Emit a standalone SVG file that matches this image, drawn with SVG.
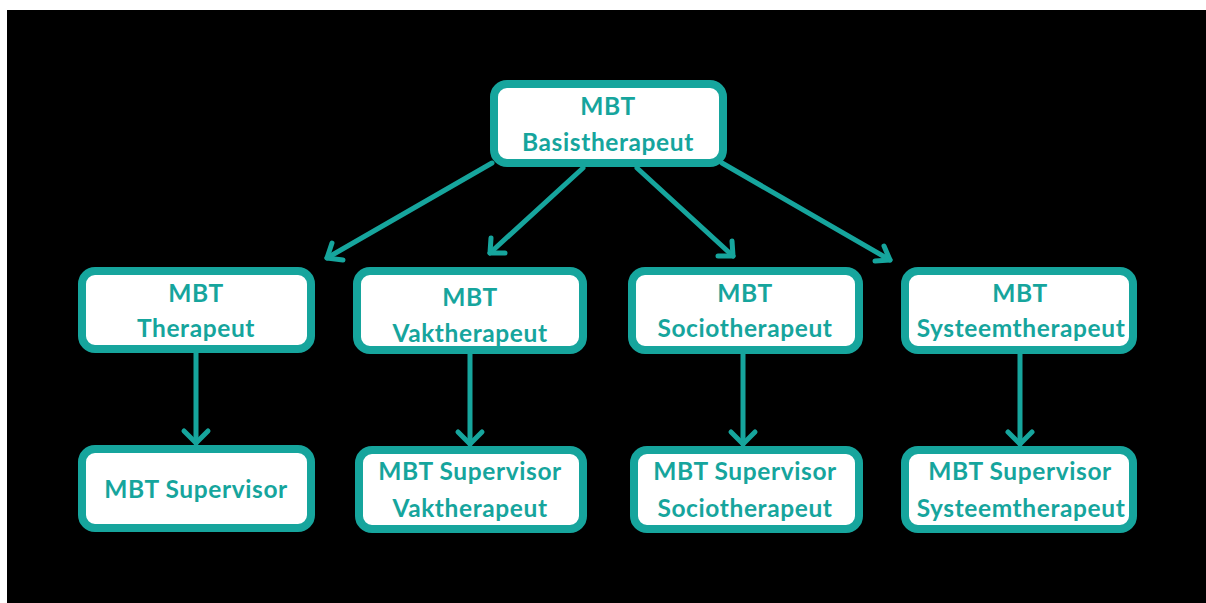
<svg xmlns="http://www.w3.org/2000/svg" width="1206" height="603" viewBox="0 0 1206 603">
<defs>
<style>
.box{fill:#ffffff;stroke:#16a59d;stroke-width:8}
.t{font-family:Lato,"Open Sans",sans-serif;font-weight:700;font-size:24.5px;letter-spacing:0.6px;fill:#16a59d;text-anchor:middle}
.c{stroke:#16a59d;stroke-width:5;fill:none;stroke-linecap:round}
.h{stroke:#16a59d;stroke-width:5;fill:none;stroke-linecap:round;stroke-linejoin:round}
</style>
</defs>
<rect x="0" y="0" width="1206" height="603" fill="#ffffff"/>
<rect x="7" y="10" width="1199" height="593" fill="#000000"/>
<g id="connectors">
<path class="c" d="M492,163 L327,258"/>
<path class="h" d="M332,243 L327,258 L343,260"/>
<path class="c" d="M583,168 L490,253"/>
<path class="h" d="M491,238 L490,253 L505,253"/>
<path class="c" d="M637,168 L733,256"/>
<path class="h" d="M718,256 L733,256 L732,241"/>
<path class="c" d="M722,163 L890,260"/>
<path class="h" d="M875,261 L890,260 L884,246"/>
<path class="c" d="M196,353 L196,443"/>
<path class="h" d="M184,431 L196,443 L208,431"/>
<path class="c" d="M470,354 L470,444"/>
<path class="h" d="M458,432 L470,444 L482,432"/>
<path class="c" d="M743,354 L743,444"/>
<path class="h" d="M731,432 L743,444 L755,432"/>
<path class="c" d="M1020,354 L1020,444"/>
<path class="h" d="M1008,432 L1020,444 L1032,432"/>
</g>
<g id="n-basis">
<rect class="box" x="494" y="84" width="229" height="79" rx="13"/>
<text class="t" x="608" y="115">MBT</text>
<text class="t" x="608" y="151">Basistherapeut</text>
</g>
<g id="n-therapeut">
<rect class="box" x="82" y="271" width="229" height="78" rx="13"/>
<text class="t" x="196" y="302">MBT</text>
<text class="t" x="196" y="337">Therapeut</text>
</g>
<g id="n-vakt">
<rect class="box" x="357" y="271" width="226" height="79" rx="13"/>
<text class="t" x="470" y="306">MBT</text>
<text class="t" x="470" y="342">Vaktherapeut</text>
</g>
<g id="n-socio">
<rect class="box" x="632" y="271" width="227" height="79" rx="13"/>
<text class="t" x="745" y="302">MBT</text>
<text class="t" x="745" y="337">Sociotherapeut</text>
</g>
<g id="n-systeem">
<rect class="box" x="905" y="271" width="228" height="79" rx="13"/>
<text class="t" x="1020" y="302">MBT</text>
<text class="t" x="1021" y="337">Systeemtherapeut</text>
</g>
<g id="n-supervisor">
<rect class="box" x="82" y="449" width="229" height="79" rx="13"/>
<text class="t" x="196" y="498">MBT Supervisor</text>
</g>
<g id="n-sup-vakt">
<rect class="box" x="359" y="450" width="224" height="79" rx="13"/>
<text class="t" x="470" y="480">MBT Supervisor</text>
<text class="t" x="470" y="517">Vaktherapeut</text>
</g>
<g id="n-sup-socio">
<rect class="box" x="634" y="450" width="225" height="79" rx="13"/>
<text class="t" x="745" y="480">MBT Supervisor</text>
<text class="t" x="745" y="517">Sociotherapeut</text>
</g>
<g id="n-sup-systeem">
<rect class="box" x="905" y="450" width="228" height="79" rx="13"/>
<text class="t" x="1020" y="480">MBT Supervisor</text>
<text class="t" x="1021" y="517">Systeemtherapeut</text>
</g>
</svg>
